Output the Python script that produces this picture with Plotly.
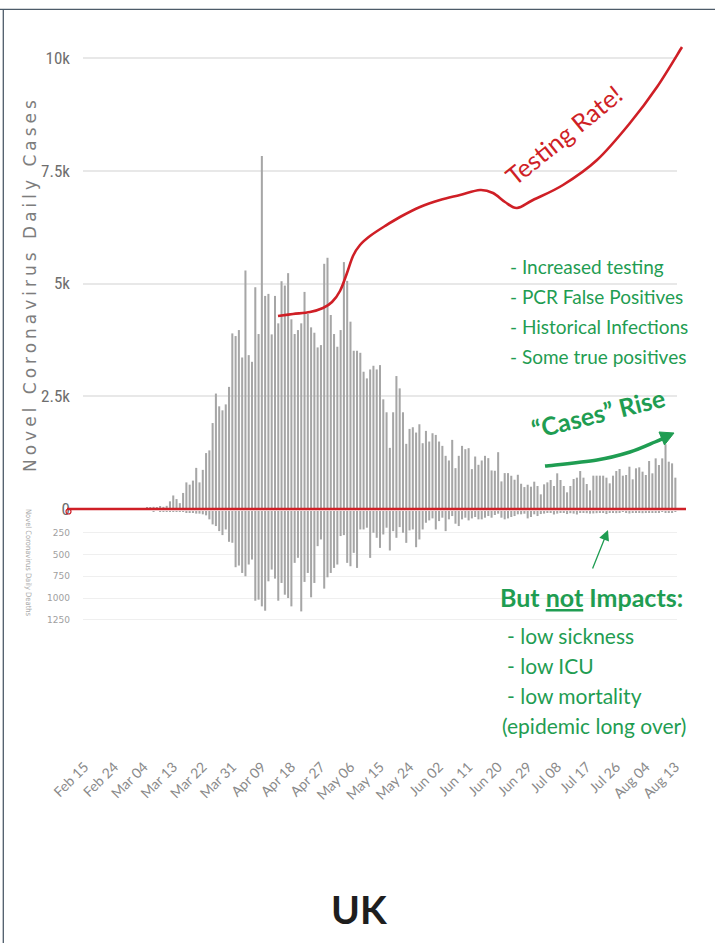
import datetime as dt
import plotly.graph_objects as go

# ---------------- data ----------------
start_date = dt.date(2020, 2, 15)
n_days = 181
dates = [(start_date + dt.timedelta(days=i)).isoformat() for i in range(n_days)]

tick_labels = ["Feb 15", "Feb 24", "Mar 04", "Mar 13", "Mar 22", "Mar 31", "Apr 09",
               "Apr 18", "Apr 27", "May 06", "May 15", "May 24", "Jun 02", "Jun 11",
               "Jun 20", "Jun 29", "Jul 08", "Jul 17", "Jul 26", "Aug 04", "Aug 13"]
tick_dates = dates[::9]

cases_feb_mar = [0, 0, 0, 0, 0, 0, 0, 0, 0, 0, 0, 0, 0, 4, 2, 5, 13, 4, 11, 34, 29, 48, 43, 67, 48]
cases_mar_apr = [70, 170, 300, 220, 130, 356, 590, 540, 630, 912, 590, 868, 1240, 1300, 1906,
                 2560, 2277, 2188, 2320, 2708, 3894, 3835, 3968, 3360, 5289, 3412, 3264, 4918,
                 3880, 7826]
cases_apr_may = [4725, 4770, 3872, 4725, 4117, 5051, 4955, 5230, 4206, 3880, 3968, 4117, 4814,
                 4325, 4028, 3909, 3583, 3635, 5437, 5571, 4302, 3880, 3598, 3968, 5475, 5059,
                 4154, 3509, 3509]
cases_may_jun = [3464, 3044, 2896, 3095, 3176, 3095, 3191, 2432, 2145, 1356, 2145, 2948, 2675,
                 2145, 1445, 1776, 1813, 1695, 1879, 1459, 1732, 1496, 1680, 1643, 1496, 1400,
                 1179, 1076, 1533, 906, 1179, 1400, 1326, 1349, 884, 1164, 980, 1076, 1179,
                 1128, 855, 848, 1260, 612, 796, 796, 737, 649, 759, 560, 486, 538]
cases_jul_aug = [495, 606, 510, 325, 547, 591, 643, 510, 791, 643, 510, 370, 510, 665, 695,
                 842, 695, 554, 414, 739, 739, 739, 739, 695, 569, 739, 842, 887, 739, 754,
                 938, 658, 902, 924, 828, 754, 1064, 791, 1123, 975, 1123, 1434, 1049, 1012, 695]
daily_cases = cases_feb_mar + cases_mar_apr + cases_apr_may + cases_may_jun + cases_jul_aug

deaths_feb_mar = [0] * 20 + [0, 1, 0, 1, 1, 2, 3, 4]
deaths_mar_may = [8, 8, 8, 15, 19, 23, 30, 30, 38, 50, 96, 154, 173, 231, 277, 212, 354, 365,
                  646, 627, 712, 750, 615, 558, 1031, 1019, 1096, 1146, 808, 673, 777, 1031,
                  827, 962, 1000, 1096, 596, 538, 1154, 815, 712, 992, 827, 404, 327, 892, 762,
                  712, 654, 615, 288, 277, 596, 635, 481, 654]
deaths_may_jul = [212, 212, 192, 539, 250, 308, 424, 270, 192, 454, 231, 308, 185, 250, 366,
                  223, 212, 416, 327, 212, 135, 108, 85, 212, 116, 77, 231, 96, 58, 146, 173,
                  96, 77, 108, 85, 69, 96, 96, 77, 58, 77, 46, 31, 77, 96, 85, 69, 58, 38, 38,
                  31, 85, 69, 38, 58]
deaths_jul_aug = [35, 30, 20, 15, 40, 30, 20, 15, 35, 25, 30, 40, 20, 15, 25, 30, 28, 25, 12,
                  15, 35, 22, 20, 25, 18, 10, 20, 28, 22, 12, 15, 25, 20, 12, 15, 22, 15, 10,
                  20, 18, 12, 10]
daily_deaths = deaths_feb_mar + deaths_mar_may + deaths_may_jul + deaths_jul_aug

case_ticks = [0, 2500, 5000, 7500, 10000]
case_tick_text = ["0", "2.5k", "5k", "7.5k", "10k"]
death_ticks = [250, 500, 750, 1000, 1250]
death_tick_text = ["250", "500", "750", "1000", "1250"]

# ---------------- figure geometry helpers ----------------
W, H = 715, 943


def px(x):
    return x / W


def py(y):
    return 1 - y / H


def smooth_path(points):
    pts = [(px(x), py(y)) for x, y in points]
    d = "M %.5f,%.5f" % pts[0]
    n = len(pts)
    for i in range(n - 1):
        p0 = pts[i - 1] if i > 0 else pts[i]
        p1 = pts[i]
        p2 = pts[i + 1]
        p3 = pts[i + 2] if i + 2 < n else pts[i + 1]
        c1 = (p1[0] + (p2[0] - p0[0]) / 6, p1[1] + (p2[1] - p0[1]) / 6)
        c2 = (p2[0] - (p3[0] - p1[0]) / 6, p2[1] - (p3[1] - p1[1]) / 6)
        d += " C %.5f,%.5f %.5f,%.5f %.5f,%.5f" % (c1 + c2 + p2)
    return d


RED = "#cf1f26"
GREEN = "#1f9d52"
BAR = "#a6a6a6"
GRID = "#e8e8e8"

fig = go.Figure()
fig.add_trace(go.Bar(x=dates, y=daily_cases, marker=dict(color=BAR, line=dict(width=0)),
                     xaxis="x", yaxis="y", name="Daily Cases", showlegend=False))
fig.add_trace(go.Bar(x=dates, y=daily_deaths, marker=dict(color=BAR, line=dict(width=0)),
                     xaxis="x", yaxis="y2", name="Daily Deaths", showlegend=False))

# hand-drawn annotation geometry (pixel positions on the picture)
testing_curve = [(278, 316), (293, 314), (310, 312), (323, 308), (332, 302), (340, 291),
                 (347, 273), (353, 256), (360, 245), (370, 236), (385, 226), (400, 217),
                 (420, 207), (440, 200), (460, 195), (480, 190), (493, 193), (505, 202),
                 (517, 208), (533, 200), (563, 185), (597, 160), (630, 123), (657, 87),
                 (682, 47)]
rise_curve = [(545, 466), (597, 460), (630, 452), (655, 442), (666, 437)]

shapes = [
    dict(type="line", xref="paper", yref="paper", x0=0, x1=1, y0=py(9.3), y1=py(9.3),
         line=dict(color="#4d5b69", width=1.3)),
    dict(type="line", xref="paper", yref="paper", x0=px(3.3), x1=px(3.3), y0=py(9), y1=0,
         line=dict(color="#4d5b69", width=1.3)),
    dict(type="line", xref="paper", yref="paper", x0=px(67), x1=px(686), y0=py(509), y1=py(509),
         line=dict(color=RED, width=2.5)),
    dict(type="circle", xref="paper", yref="paper", x0=px(66), x1=px(71), y0=py(514), y1=py(509),
         line=dict(color=RED, width=1.2)),
    dict(type="path", xref="paper", yref="paper", path=smooth_path(testing_curve),
         line=dict(color=RED, width=2.6)),
    dict(type="path", xref="paper", yref="paper", path=smooth_path(rise_curve),
         line=dict(color=GREEN, width=3.5)),
    dict(type="path", xref="paper", yref="paper",
         path="M %.5f,%.5f L %.5f,%.5f L %.5f,%.5f Z" % (px(674), py(433), px(664.5), py(445),
                                                          px(659), py(432)),
         fillcolor=GREEN, line=dict(color=GREEN, width=1)),
]

text_font = "Lato, Carlito, Calibri, sans-serif"
annotations = [
    dict(xref="paper", yref="paper", x=px(30), y=py(284), xanchor="center", yanchor="middle",
         text='<span style="letter-spacing:4px">Novel Coronavirus Daily Cases</span>',
         textangle=-90, showarrow=False,
         font=dict(family="DejaVu Sans, sans-serif", size=17, color="#7d7d7d")),
    dict(xref="paper", yref="paper", x=px(29), y=py(563), xanchor="center", yanchor="middle",
         text="Novel Coronavirus Daily Deaths", textangle=90, showarrow=False,
         font=dict(family="DejaVu Sans Condensed, DejaVu Sans, sans-serif", size=7.5, color="#a8a8a8")),
    dict(xref="paper", yref="paper", x=px(563), y=py(135), xanchor="center", yanchor="middle",
         text="Testing Rate!", textangle=-39, showarrow=False,
         font=dict(family=text_font, size=25, color=RED)),
    dict(xref="paper", yref="paper", x=px(598), y=py(413), xanchor="center", yanchor="middle",
         text="<b>\u201cCases\u201d Rise</b>", textangle=-14, showarrow=False,
         font=dict(family=text_font, size=25, color=GREEN)),
    dict(xref="paper", yref="paper", x=px(498), y=py(597), xanchor="left", yanchor="middle",
         text="<b>But <u>not</u> Impacts:</b>", showarrow=False,
         font=dict(family=text_font, size=25, color=GREEN)),
    dict(xref="paper", yref="paper", x=px(608), y=py(530), ax=-16, ay=40,
         axref="pixel", ayref="pixel", text="", showarrow=True, arrowhead=2, arrowsize=1.6,
         arrowwidth=1.3, arrowcolor=GREEN, standoff=0),
    dict(xref="paper", yref="paper", x=px(359), y=py(909), xanchor="center", yanchor="middle",
         text="<b>UK</b>", showarrow=False,
         font=dict(family=text_font, size=39, color="#1e1e1e")),
]

upper_list = ["- Increased testing", "- PCR False Positives", "- Historical Infections",
              "- Some true positives"]
for i, line in enumerate(upper_list):
    annotations.append(dict(xref="paper", yref="paper", x=px(508), y=py(267 + 30 * i),
                            xanchor="left", yanchor="middle", text=line, showarrow=False,
                            font=dict(family=text_font, size=19, color=GREEN)))
lower_list = ["- low sickness", "- low ICU", "- low mortality", "(epidemic long over)"]
for i, line in enumerate(lower_list):
    annotations.append(dict(xref="paper", yref="paper", x=px(505 if i < 3 else 500),
                            y=py(635 + 30 * i), xanchor="left", yanchor="middle", text=line,
                            showarrow=False,
                            font=dict(family=text_font, size=21, color=GREEN)))

fig.update_layout(
    width=W, height=H,
    margin=dict(l=0, r=0, t=0, b=0, pad=0, autoexpand=False),
    paper_bgcolor="white", plot_bgcolor="rgba(0,0,0,0)",
    barmode="overlay", bargap=0.38,
    showlegend=False,
    xaxis=dict(
        domain=[px(83), px(677)], anchor="free", position=py(755),
        type="date", range=["2020-02-14 12:00", "2020-08-13 12:00"],
        tickmode="array", tickvals=tick_dates, ticktext=tick_labels, tickangle=-45,
        tickfont=dict(family=text_font, size=14, color="#8a8a8a"),
        showgrid=False, zeroline=False, showline=False, ticks="", automargin=False,
    ),
    yaxis=dict(
        domain=[py(509), py(40)], range=[0, 10400],
        tickmode="array", tickvals=case_ticks, ticktext=case_tick_text,
        tickfont=dict(family="Liberation Sans Narrow, Roboto Condensed, Arial Narrow, sans-serif",
                      size=17, color="#6e6e6e"),
        showgrid=True, gridcolor=GRID, gridwidth=1.5, zeroline=False, showline=False,
        ticks="", ticklabelstandoff=12, automargin=False,
    ),
    yaxis2=dict(
        domain=[py(645), py(511)], range=[1540, 0],
        tickmode="array", tickvals=death_ticks, ticktext=death_tick_text,
        tickfont=dict(family="DejaVu Sans, sans-serif", size=9, color="#a0a0a0"),
        showgrid=True, gridcolor="#efefef", gridwidth=1.2, zeroline=False, showline=False,
        ticks="", ticklabelstandoff=12, anchor="x", automargin=False,
    ),
    shapes=shapes,
    annotations=annotations,
)

fig.write_html(
    "out.html",
    config={"displayModeBar": False},
    post_script="document.body.style.margin='0px';document.body.style.overflow='hidden';",
)
